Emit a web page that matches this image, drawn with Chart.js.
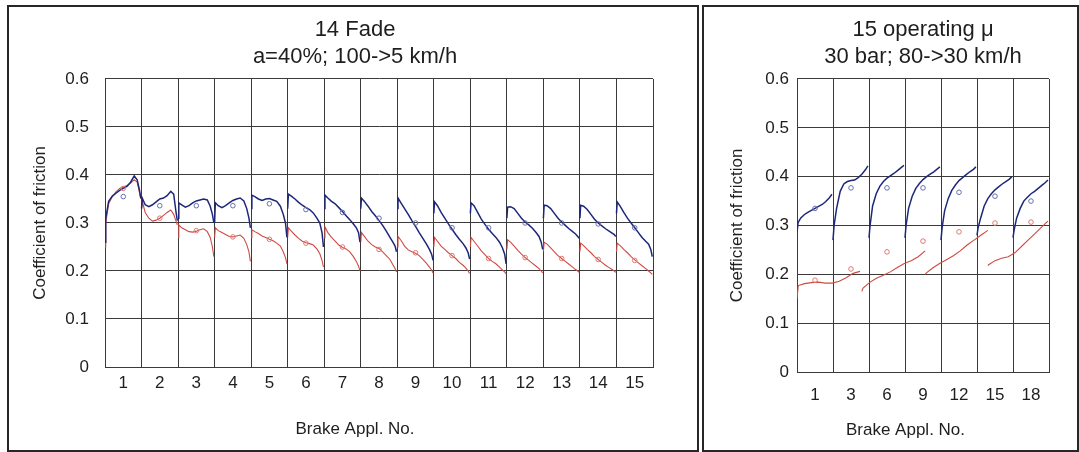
<!DOCTYPE html>
<html>
<head>
<meta charset="utf-8">
<script src="https://cdn.jsdelivr.net/npm/chart.js@4.4.1/dist/chart.umd.min.js"></script>
<style>
  html, body { margin: 0; padding: 0; background: #fff; }
  body { width: 1079px; height: 452px; position: relative; overflow: hidden; }
  .frame { position: absolute; box-sizing: border-box; border: 2px solid #262626; top: 5px; height: 447px; }
  #frameFade { left: 7px; width: 692px; }
  #frameOper { left: 702px; width: 377px; }
  canvas { position: absolute; top: 0; }
  #fade { left: 0; }
  #oper { left: 700px; }
</style>
</head>
<body>
<div class="frame" id="frameFade"></div>
<div class="frame" id="frameOper"></div>
<canvas id="fade" width="700" height="452"></canvas>
<canvas id="oper" width="379" height="452"></canvas>
<script>
// ---- shared axis values ----
const yTickValues = [0, 0.1, 0.2, 0.3, 0.4, 0.5, 0.6];
const yTickLabels = ['0', '0.1', '0.2', '0.3', '0.4', '0.5', '0.6'];

// ---- 14 Fade: one curve per brake application ----
const fadeTitle = ['14 Fade', 'a=40%; 100->5 km/h'];
const fadeLabels = ['1', '2', '3', '4', '5', '6', '7', '8', '9', '10', '11', '12', '13', '14', '15'];
// sample positions inside each application (share of the application's width)
const fadeFractions = [0, 0.02, 0.1, 0.2, 0.3, 0.4, 0.5, 0.6, 0.7, 0.8, 0.88, 0.94, 0.98];
const fadeBlue = [
  [0.26, 0.31, 0.345, 0.356, 0.362, 0.368, 0.372, 0.376, 0.385, 0.398, 0.39, 0.37, 0.352],
  [0.33, 0.352, 0.338, 0.334, 0.338, 0.344, 0.35, 0.352, 0.357, 0.366, 0.36, 0.325, 0.305],
  [0.31, 0.342, 0.338, 0.333, 0.336, 0.342, 0.346, 0.348, 0.35, 0.348, 0.335, 0.318, 0.3],
  [0.30, 0.342, 0.336, 0.332, 0.336, 0.342, 0.347, 0.35, 0.352, 0.346, 0.33, 0.31, 0.29],
  [0.33, 0.358, 0.355, 0.35, 0.347, 0.35, 0.351, 0.348, 0.345, 0.335, 0.318, 0.3, 0.27],
  [0.33, 0.36, 0.356, 0.35, 0.343, 0.337, 0.332, 0.328, 0.321, 0.31, 0.3, 0.28, 0.25],
  [0.33, 0.358, 0.352, 0.345, 0.34, 0.332, 0.324, 0.315, 0.307, 0.298, 0.29, 0.28, 0.26],
  [0.33, 0.352, 0.345, 0.335, 0.324, 0.315, 0.305, 0.295, 0.283, 0.27, 0.26, 0.252, 0.24],
  [0.33, 0.352, 0.342, 0.33, 0.318, 0.305, 0.293, 0.28, 0.268, 0.256, 0.245, 0.235, 0.222],
  [0.32, 0.344, 0.336, 0.322, 0.31, 0.298, 0.287, 0.276, 0.266, 0.257, 0.248, 0.238, 0.225],
  [0.32, 0.342, 0.336, 0.322, 0.308, 0.297, 0.287, 0.278, 0.27, 0.26, 0.248, 0.235, 0.215],
  [0.31, 0.333, 0.334, 0.33, 0.32, 0.31, 0.302, 0.296, 0.289, 0.28, 0.272, 0.26, 0.245],
  [0.31, 0.337, 0.336, 0.33, 0.32, 0.31, 0.302, 0.295, 0.288, 0.282, 0.277, 0.272, 0.268],
  [0.31, 0.337, 0.335, 0.328, 0.318, 0.308, 0.3, 0.294, 0.288, 0.283, 0.279, 0.276, 0.272],
  [0.32, 0.344, 0.335, 0.322, 0.31, 0.3, 0.29, 0.28, 0.27, 0.262, 0.256, 0.245, 0.23]
];
const fadeRed = [
  [0.25, 0.30, 0.34, 0.355, 0.365, 0.372, 0.375, 0.378, 0.383, 0.39, 0.385, 0.365, 0.35],
  [0.33, 0.345, 0.322, 0.31, 0.304, 0.306, 0.31, 0.316, 0.322, 0.327, 0.318, 0.305, 0.296],
  [0.27, 0.296, 0.29, 0.286, 0.282, 0.281, 0.283, 0.286, 0.288, 0.282, 0.27, 0.25, 0.23],
  [0.27, 0.29, 0.284, 0.28, 0.276, 0.272, 0.271, 0.273, 0.275, 0.268, 0.255, 0.24, 0.22],
  [0.27, 0.286, 0.282, 0.278, 0.273, 0.27, 0.266, 0.263, 0.258, 0.252, 0.24, 0.228, 0.215],
  [0.27, 0.29, 0.283, 0.275, 0.268, 0.262, 0.259, 0.257, 0.254, 0.246, 0.236, 0.222, 0.208],
  [0.27, 0.292, 0.28, 0.27, 0.262, 0.254, 0.249, 0.246, 0.24, 0.23, 0.22, 0.21, 0.2],
  [0.26, 0.28, 0.272, 0.262, 0.255, 0.25, 0.247, 0.24, 0.232, 0.224, 0.213, 0.205, 0.198],
  [0.25, 0.272, 0.264, 0.252, 0.244, 0.24, 0.237, 0.232, 0.224, 0.216, 0.208, 0.202, 0.196],
  [0.25, 0.27, 0.262, 0.252, 0.245, 0.238, 0.232, 0.226, 0.218, 0.212, 0.206, 0.2, 0.195],
  [0.25, 0.27, 0.262, 0.252, 0.242, 0.234, 0.226, 0.22, 0.215, 0.208, 0.202, 0.198, 0.194],
  [0.245, 0.265, 0.26, 0.252, 0.243, 0.235, 0.228, 0.222, 0.216, 0.21, 0.205, 0.2, 0.196],
  [0.24, 0.26, 0.256, 0.248, 0.24, 0.232, 0.226, 0.22, 0.214, 0.208, 0.203, 0.2, 0.197],
  [0.24, 0.258, 0.253, 0.245, 0.238, 0.23, 0.224, 0.218, 0.212, 0.207, 0.203, 0.2, 0.197],
  [0.24, 0.258, 0.253, 0.245, 0.238, 0.23, 0.223, 0.217, 0.211, 0.205, 0.2, 0.196, 0.193]
];
// mean friction per application (open markers)
const fadeBlueMean = [0.355, 0.336, 0.336, 0.336, 0.34, 0.328, 0.322, 0.31, 0.3, 0.29, 0.29, 0.3, 0.3, 0.298, 0.29];
const fadeRedMean = [0.372, 0.31, 0.284, 0.271, 0.266, 0.258, 0.25, 0.245, 0.238, 0.232, 0.226, 0.228, 0.226, 0.224, 0.222];

// ---- 15 operating mu ----
const operTitle = ['15 operating \u03bc', '30 bar; 80->30 km/h'];
const operLabels = ['1', '3', '6', '9', '12', '15', '18'];
const operFractions = [0, 0.03, 0.1, 0.2, 0.3, 0.4, 0.5, 0.6, 0.7, 0.8, 0.9, 0.97];
const operBlue = [
  [0.285, 0.306, 0.315, 0.322, 0.327, 0.331, 0.335, 0.339, 0.343, 0.349, 0.357, 0.364],
  [0.27, 0.30, 0.335, 0.37, 0.385, 0.39, 0.392, 0.393, 0.398, 0.405, 0.414, 0.422],
  [0.275, 0.30, 0.34, 0.365, 0.38, 0.39, 0.397, 0.402, 0.407, 0.413, 0.419, 0.423],
  [0.275, 0.30, 0.335, 0.36, 0.376, 0.386, 0.394, 0.4, 0.405, 0.41, 0.416, 0.42],
  [0.27, 0.295, 0.33, 0.355, 0.372, 0.383, 0.392, 0.398, 0.404, 0.41, 0.415, 0.42],
  [0.28, 0.295, 0.315, 0.34, 0.355, 0.365, 0.373, 0.379, 0.385, 0.39, 0.395, 0.40],
  [0.275, 0.29, 0.315, 0.335, 0.35, 0.358, 0.365, 0.37, 0.376, 0.382, 0.388, 0.393]
];
// red runs span more than one group on the axis: [from, to] in axis units
const operRedSpans = [[0, 1.75], [1.8, 3.56], [3.56, 5.3], [5.3, 6.97]];
const operRedFractions = [0, 0.02, 0.12, 0.23, 0.34, 0.45, 0.56, 0.67, 0.78, 0.89, 1];
const operRed = [
  [0.15, 0.177, 0.181, 0.183, 0.184, 0.182, 0.182, 0.186, 0.193, 0.202, 0.206],
  [0.165, 0.172, 0.183, 0.192, 0.198, 0.205, 0.214, 0.222, 0.228, 0.236, 0.248],
  [0.20, 0.203, 0.213, 0.222, 0.23, 0.238, 0.248, 0.26, 0.27, 0.28, 0.29],
  [0.218, 0.22, 0.228, 0.233, 0.236, 0.244, 0.257, 0.27, 0.283, 0.296, 0.309]
];
const operBlueMean = [0.335, 0.377, 0.377, 0.377, 0.368, 0.36, 0.35];
const operRedMean = [0.188, 0.211, 0.246, 0.268, 0.287, 0.305, 0.307];

// ---- helpers ----
const FONT = "'Liberation Sans', Arial, Helvetica, sans-serif";
const TEXT = '#1e1e1e';
const GRID = '#3a3a3a';
const BLUE = '#1d2779';
const RED = '#cf4a42';

Chart.defaults.font.family = FONT;
Chart.defaults.color = TEXT;

function curve(values, fractions, from, to) {
  return values.map((v, j) => ({ x: from + fractions[j] * (to - from), y: v }));
}
function joinCurves(curves) {
  const out = [];
  curves.forEach(c => {
    out.push(...c);
    out.push({ x: c[c.length - 1].x, y: null }); // break between runs
  });
  return out;
}
function means(values) {
  return values.map((v, i) => ({ x: i + 0.5, y: v }));
}

function build(canvasId, s) {
  const n = s.labels.length;
  return new Chart(document.getElementById(canvasId), {
    type: 'line',
    data: {
      datasets: [
        { data: s.blueMarks, showLine: false, pointRadius: 2.3, pointBorderWidth: 1,
          pointBorderColor: '#6770ad', pointBackgroundColor: 'rgba(0,0,0,0)', order: 1 },
        { data: s.redMarks, showLine: false, pointRadius: 2.3, pointBorderWidth: 1,
          pointBorderColor: '#dc7a74', pointBackgroundColor: 'rgba(0,0,0,0)', order: 2 },
        { data: s.blue, borderColor: BLUE, borderWidth: 1.5, pointRadius: 0, tension: 0, order: 3 },
        { data: s.red, borderColor: RED, borderWidth: 1.1, pointRadius: 0, tension: 0, order: 4 }
      ]
    },
    options: {
      responsive: false,
      animation: false,
      events: [],
      layout: { padding: s.padding },
      plugins: {
        legend: { display: false },
        tooltip: { enabled: false },
        title: {
          display: true, text: s.title, color: TEXT, fullSize: s.titleFullSize,
          font: { size: 22, weight: 'normal', lineHeight: 1.227 },
          padding: { top: 10.5, bottom: 8.5 }
        },
        subtitle: {
          display: true, position: 'bottom', text: 'Brake Appl. No.', color: TEXT,
          font: { size: 17, lineHeight: 1.2 },
          padding: { top: 0, bottom: s.xTitleBottom }
        }
      },
      scales: {
        x: {
          type: 'linear', min: 0, max: n,
          afterBuildTicks: sc => { sc.ticks = s.labels.map((_, i) => ({ value: i + 0.5 })); },
          afterFit: sc => { sc.height = s.xHeight; },
          ticks: { autoSkip: false, maxRotation: 0, padding: s.xTickPad, color: TEXT,
                   font: { size: 17 }, callback: (v, i) => s.labels[i] },
          grid: { offset: true, color: GRID, lineWidth: 1, drawTicks: false },
          border: { color: GRID, width: 1 }
        },
        y: {
          min: 0, max: 0.6,
          afterBuildTicks: sc => { sc.ticks = yTickValues.map(v => ({ value: v })); },
          afterFit: sc => { sc.width = s.yWidth; },
          ticks: { padding: s.yTickPad, color: TEXT, font: { size: 17 },
                   callback: (v, i) => yTickLabels[i] },
          grid: { color: GRID, lineWidth: 1, drawTicks: false },
          border: { color: GRID, width: 1 },
          title: { display: true, text: 'Coefficient of friction', color: TEXT,
                   font: { size: 17 }, padding: { top: s.yTitlePad, bottom: 0 } }
        }
      }
    }
  });
}

// ---- 14 Fade ----
build('fade', {
  title: fadeTitle,
  titleFullSize: true,
  labels: fadeLabels,
  blue: joinCurves(fadeBlue.map((vals, i) => curve(vals, fadeFractions, i, i + 1))),
  red: joinCurves(fadeRed.map((vals, i) => curve(vals, fadeFractions, i, i + 1))),
  blueMarks: means(fadeBlueMean),
  redMarks: means(fadeRedMean),
  padding: { left: 57, right: 47, top: 6, bottom: 4 },
  yWidth: 48, yTickPad: 16, yTitlePad: -27.2,
  xHeight: 51.8, xTickPad: 5.8, xTitleBottom: 8.8
});

// ---- 15 operating mu ----
build('oper', {
  title: operTitle,
  titleFullSize: false,
  labels: operLabels,
  blue: joinCurves(operBlue.map((vals, i) => curve(vals, operFractions, i, i + 1))),
  red: joinCurves(operRed.map((vals, k) => curve(vals, operRedFractions, operRedSpans[k][0], operRedSpans[k][1]))),
  blueMarks: means(operBlueMean),
  redMarks: means(operRedMean),
  padding: { left: 62, right: 30, top: 6, bottom: 4 },
  yWidth: 35, yTickPad: 8, yTitlePad: -35.2,
  xHeight: 47.8, xTickPad: 12.8, xTitleBottom: 7.8
});
</script>
</body>
</html>
